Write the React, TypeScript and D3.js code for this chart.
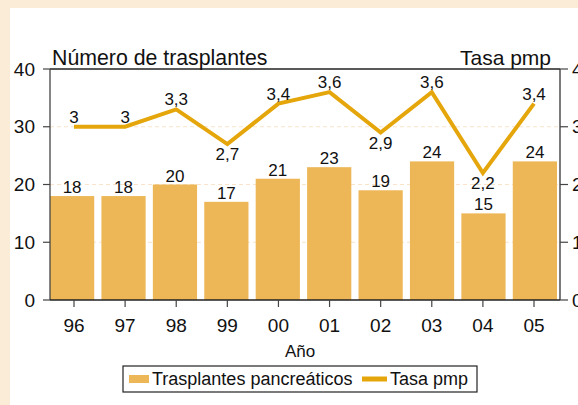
import React from 'react';
import * as d3 from 'd3';

const years = ['96', '97', '98', '99', '00', '01', '02', '03', '04', '05'];
const transplants = [18, 18, 20, 17, 21, 23, 19, 24, 15, 24];
const rate = [3, 3, 3.3, 2.7, 3.4, 3.6, 2.9, 3.6, 2.2, 3.4];
const rateLabels = ['3', '3', '3,3', '2,7', '3,4', '3,6', '2,9', '3,6', '2,2', '3,4'];
const rateLabelPos = ['above', 'above', 'above', 'below', 'above', 'above', 'below', 'above', 'below', 'above'];
const leftTicks = [0, 10, 20, 30, 40];
const rightTicks = [0, 1, 2, 3, 4];
const gridTicks = [10, 20, 30];

const W = 578;
const H = 405;
const FONT = '"Liberation Sans", Arial, Helvetica, sans-serif';
const BAR = '#EDB757';
const LINE = '#E5A60C';
const BG = '#FBECD8';

export default function App() {
  const left = 50, right = 560, top = 69, bottom = 300;
  const yL = d3.scaleLinear().domain([0, 40]).range([bottom, top]);
  const yR = d3.scaleLinear().domain([0, 4]).range([bottom, top]);
  const xb = d3.scaleBand<string>().domain(years).range([50, 557]).paddingInner(0.14).paddingOuter(0);
  const xp = d3.scalePoint<string>().domain(years).range([74, 534]);
  const line = d3.line<number>().x((_, i) => xp(years[i])!).y((d) => yR(d));

  return (
    <svg width={W} height={H} style={{ position: 'absolute', left: 0, top: 0, display: 'block' }} fontFamily={FONT}>
      <rect x={0} y={0} width={W} height={H} fill={BG} />
      <rect x={10} y={8} width={W} height={H} fill="#ffffff" />

      {gridTicks.map((t) => (
        <line key={t} x1={left} x2={right} y1={yL(t)} y2={yL(t)} stroke="#F9E3CB" strokeWidth={1} strokeDasharray="4 3" />
      ))}

      {transplants.map((v, i) => (
        <rect key={i} x={xb(years[i])} y={yL(v)} width={xb.bandwidth()} height={bottom - yL(v)} fill={BAR} />
      ))}
      {transplants.map((v, i) => (
        <text key={'bl' + i} x={xb(years[i])! + xb.bandwidth() / 2} y={yL(v) - 3} fontSize={17} textAnchor="middle" fill="#111">
          {v}
        </text>
      ))}

      <path d={line(rate) || ''} fill="none" stroke={LINE} strokeWidth={4} strokeLinejoin="miter" />
      {rate.map((v, i) => (
        <text
          key={'rl' + i}
          x={xp(years[i])}
          y={rateLabelPos[i] === 'above' ? yR(v) - 4 : yR(v) + 16}
          fontSize={17}
          textAnchor="middle"
          fill="#111"
        >
          {rateLabels[i]}
        </text>
      ))}

      {/* box */}
      <line x1={left} x2={right} y1={top} y2={top} stroke="#222" strokeWidth={1.3} />
      <line x1={left} x2={left} y1={top} y2={bottom} stroke="#444" strokeWidth={1.3} />
      <line x1={right} x2={right} y1={top} y2={bottom} stroke="#333" strokeWidth={1.3} />
      <line x1={left} x2={right} y1={bottom} y2={bottom} stroke="#222" strokeWidth={1.3} />

      {leftTicks.map((t) => (
        <g key={'lt' + t}>
          <line x1={43} x2={left} y1={yL(t)} y2={yL(t)} stroke="#444" strokeWidth={1.2} />
          <text x={35} y={yL(t) + 6.5} fontSize={19} textAnchor="end" fill="#111">{t}</text>
        </g>
      ))}
      {rightTicks.map((t) => (
        <g key={'rt' + t}>
          <line x1={right} x2={568} y1={yR(t)} y2={yR(t)} stroke="#444" strokeWidth={1.2} />
          <text x={572} y={yR(t) + 6.5} fontSize={19} textAnchor="start" fill="#111">{t}</text>
        </g>
      ))}
      {years.map((yv) => (
        <g key={'xt' + yv}>
          <line x1={xp(yv)} x2={xp(yv)} y1={bottom} y2={307} stroke="#444" strokeWidth={1.2} />
          <text x={xp(yv)} y={332} fontSize={19} textAnchor="middle" fill="#111">{yv}</text>
        </g>
      ))}

      <text x={52} y={64.5} fontSize={21.3} fill="#111">Número de trasplantes</text>
      <text x={551} y={64.5} fontSize={21} textAnchor="end" fill="#111">Tasa pmp</text>
      <text x={300} y={357} fontSize={17} textAnchor="middle" fill="#111">Año</text>

      <rect x={123} y={366} width={354} height={26} fill="#fff" stroke="#222" strokeWidth={1.2} />
      <rect x={129} y={375} width={20} height={8} fill={BAR} />
      <text x={152} y={385} fontSize={18} fill="#111">Trasplantes pancreáticos</text>
      <line x1={362} x2={387} y1={379} y2={379} stroke={LINE} strokeWidth={5} />
      <text x={390} y={385} fontSize={18} fill="#111">Tasa pmp</text>
    </svg>
  );
}
